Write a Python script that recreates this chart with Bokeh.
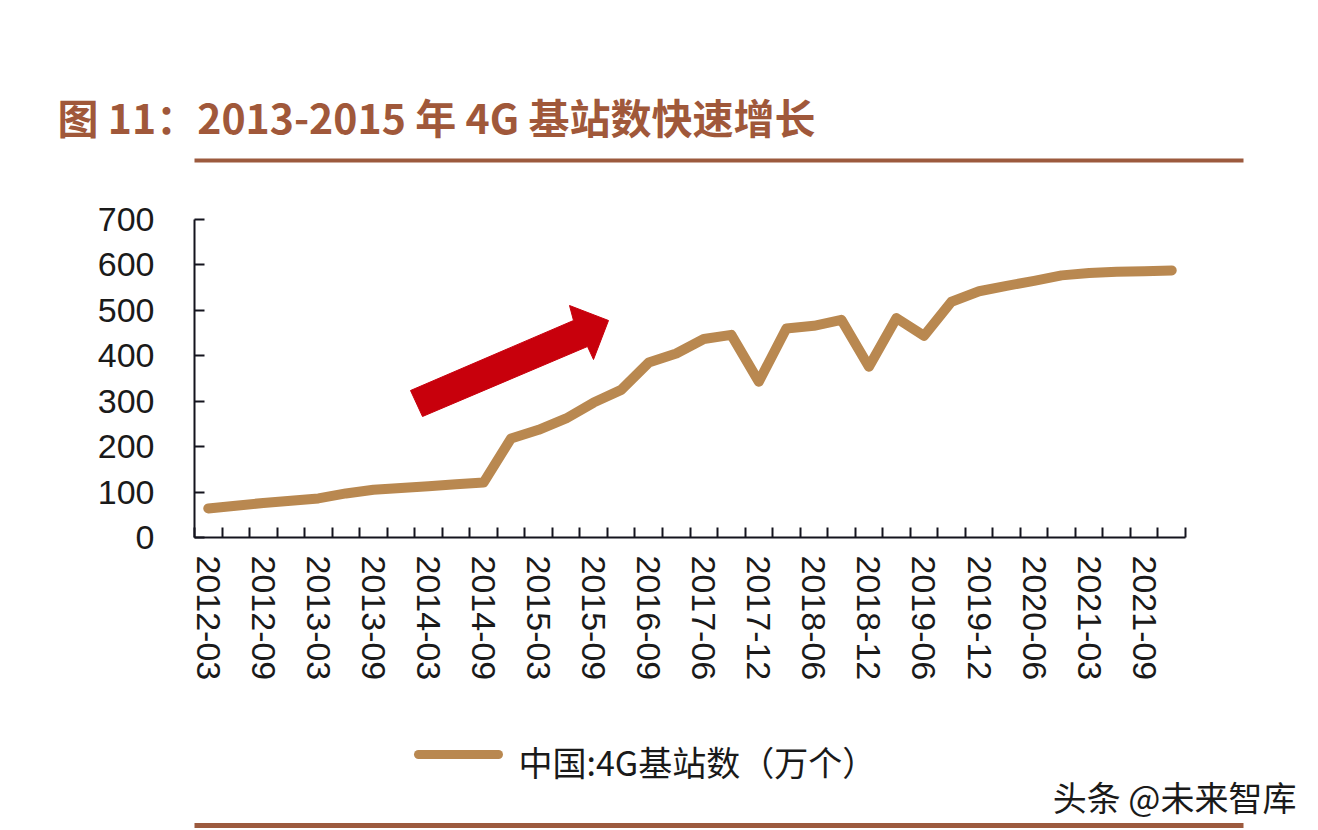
from bokeh.plotting import figure
from bokeh.models import (Range1d, FixedTicker, Title, PolyAnnotation, LinearAxis)
from bokeh.embed import file_html
from bokeh.resources import INLINE

# ---------------- data ----------------
categories = [
    "2012-03", "2012-06", "2012-09", "2012-12",
    "2013-03", "2013-06", "2013-09", "2013-12",
    "2014-03", "2014-06", "2014-09", "2014-12",
    "2015-03", "2015-06", "2015-09", "2015-12",
    "2016-09", "2016-12", "2017-06", "2017-09",
    "2017-12", "2018-03", "2018-06", "2018-09",
    "2018-12", "2019-03", "2019-06", "2019-09",
    "2019-12", "2020-03", "2020-06", "2020-12",
    "2021-03", "2021-06", "2021-09", "2021-12",
]
values = [
    64, 70, 76, 81,
    86, 97, 105, 109,
    113, 117, 121, 218,
    237, 262, 297, 325,
    385, 405, 437, 446,
    343, 460, 466, 479,
    376, 483, 444, 519,
    542, 554, 565, 577,
    582, 585, 586, 588,
]
y_ticks = [0, 100, 200, 300, 400, 500, 600, 700]
title_text = "图 11：2013-2015 年 4G 基站数快速增长"
legend_text = "中国:4G基站数（万个）"
watermark_text = "头条 @未来智库"

# ---------------- styles / layout ----------------
LINE_COLOR = "#B98850"
BROWN = "#A0583A"
RULE = "#9C5A3E"
AXIS = "#14141e"
TEXT = "#1a1a1a"

W, H = 1318, 830
AX_L, AX_R = 194, 1185          # category axis extent (px)
AX_TOP = 219                    # pixel row of the value 700
FL, FR, FT, FB = 194, 1243, 160, 537   # frame edges (px); frame top = upper brown rule
n = len(categories)
px_per_cat = (AX_R - AX_L) / n
px_per_val = (FB - AX_TOP) / 700.0
x_end = n - 0.5 + (FR - AX_R) / px_per_cat
y_end = 700 + (AX_TOP - FT) / px_per_val


def xdata(px):
    return -0.5 + (px - AX_L) / px_per_cat


p = figure(width=W, height=H, output_backend="svg", toolbar_location=None,
           x_range=Range1d(-0.5, x_end), y_range=Range1d(0, y_end),
           min_border_left=FL, min_border_right=W - FR,
           min_border_top=FT, min_border_bottom=H - FB)
p.outline_line_color = None
p.xgrid.visible = False
p.ygrid.visible = False
p.background_fill_color = "white"
p.border_fill_color = "white"

x = list(range(n))
r = p.line(x, values, line_width=10, line_color=LINE_COLOR, line_join="round",
           line_cap="round")

# x axis: labels on every other category, ticks at category boundaries
p.xaxis.bounds = (-0.5, n - 0.5)
p.xaxis.ticker = FixedTicker(ticks=[i for i in x if i % 2 == 0],
                             minor_ticks=[i - 0.5 for i in range(n + 1)])
p.xaxis.major_label_overrides = {i: categories[i] for i in x if i % 2 == 0}
p.xaxis.major_label_orientation = "vertical"
p.xaxis.major_tick_in = 0
p.xaxis.major_tick_out = 0
p.xaxis.minor_tick_in = 10
p.xaxis.minor_tick_out = 0
p.xaxis.minor_tick_line_color = AXIS
p.xaxis.minor_tick_line_width = 2
p.xaxis.axis_line_color = AXIS
p.xaxis.axis_line_width = 2
p.xaxis.major_label_text_font = "Liberation Sans"
p.xaxis.major_label_text_font_size = "34px"
p.xaxis.major_label_text_color = TEXT
p.xaxis.major_label_standoff = 18
# blank axis label only reserves the gap between tick labels and the legend row
p.xaxis.axis_label = " "
p.xaxis.axis_label_text_font = "Liberation Sans"
p.xaxis.axis_label_text_font_size = "10px"
p.xaxis.axis_label_standoff = 57

# y axis (stops at 700)
p.yaxis.bounds = (0, 700)
p.yaxis.ticker = FixedTicker(ticks=y_ticks)
p.yaxis.major_tick_in = 10
p.yaxis.major_tick_out = 0
p.yaxis.minor_tick_line_color = None
p.yaxis.major_tick_line_color = AXIS
p.yaxis.major_tick_line_width = 2
p.yaxis.axis_line_color = AXIS
p.yaxis.axis_line_width = 2
p.yaxis.major_label_text_font = "Liberation Sans"
p.yaxis.major_label_text_font_size = "34px"
p.yaxis.major_label_text_color = TEXT
p.yaxis.major_label_standoff = 40


def plain_axis(color=None, width=1, bounds="auto", cap="butt"):
    """An axis without ticks or labels, used only for its line."""
    return LinearAxis(ticker=FixedTicker(ticks=[]), bounds=bounds,
                      axis_line_color=color, axis_line_width=width, axis_line_cap=cap,
                      major_tick_in=0, major_tick_out=0, minor_tick_in=0,
                      minor_tick_out=0, major_label_standoff=0)


# ---- above: brown rule at the frame top, then the title
p.add_layout(plain_axis(color=RULE, width=4), "above")

p.title.text = title_text
p.title.align = "left"
p.title.offset = 57 - FL
p.title.standoff = 29
p.title.text_font = "Noto Sans CJK SC"
p.title.text_font_style = "bold"
p.title.text_font_size = "41px"
p.title.text_color = BROWN


# ---- red arrow (frame-relative screen units)
def sx(X):
    return X - FL


def sy(Y):
    return FB - Y


ax = [410, 573, 569, 608, 593, 587, 422]
ay = [390, 320, 305, 320, 359, 346, 416]
p.add_layout(PolyAnnotation(xs=[sx(v) for v in ax], ys=[sy(v) for v in ay],
                            xs_units="screen", ys_units="screen",
                            fill_color="#C8000C", fill_alpha=1, line_color="#C8000C",
                            line_alpha=1, line_width=1))

# ---- below: legend key line, legend text, watermark, brown rule
p.add_layout(plain_axis(color=LINE_COLOR, width=9, bounds=(xdata(418), xdata(498)),
                        cap="round"), "below")

legend_title = Title(text=legend_text, align="left", offset=518 - FL,
                     text_font="Noto Sans CJK SC", text_font_style="normal",
                     text_font_size="34px", text_color=TEXT)
try:
    legend_title.standoff = -40
except Exception:
    legend_title.standoff = 0
p.add_layout(legend_title, "below")

p.add_layout(Title(text=watermark_text, align="right", offset=FR - 1296,
                   text_font="Noto Sans CJK SC", text_font_style="normal",
                   text_font_size="34px", text_color=TEXT, standoff=9), "below")
p.add_layout(plain_axis(color=RULE, width=5), "below")

open("out.html", "w").write(file_html(p, INLINE))
